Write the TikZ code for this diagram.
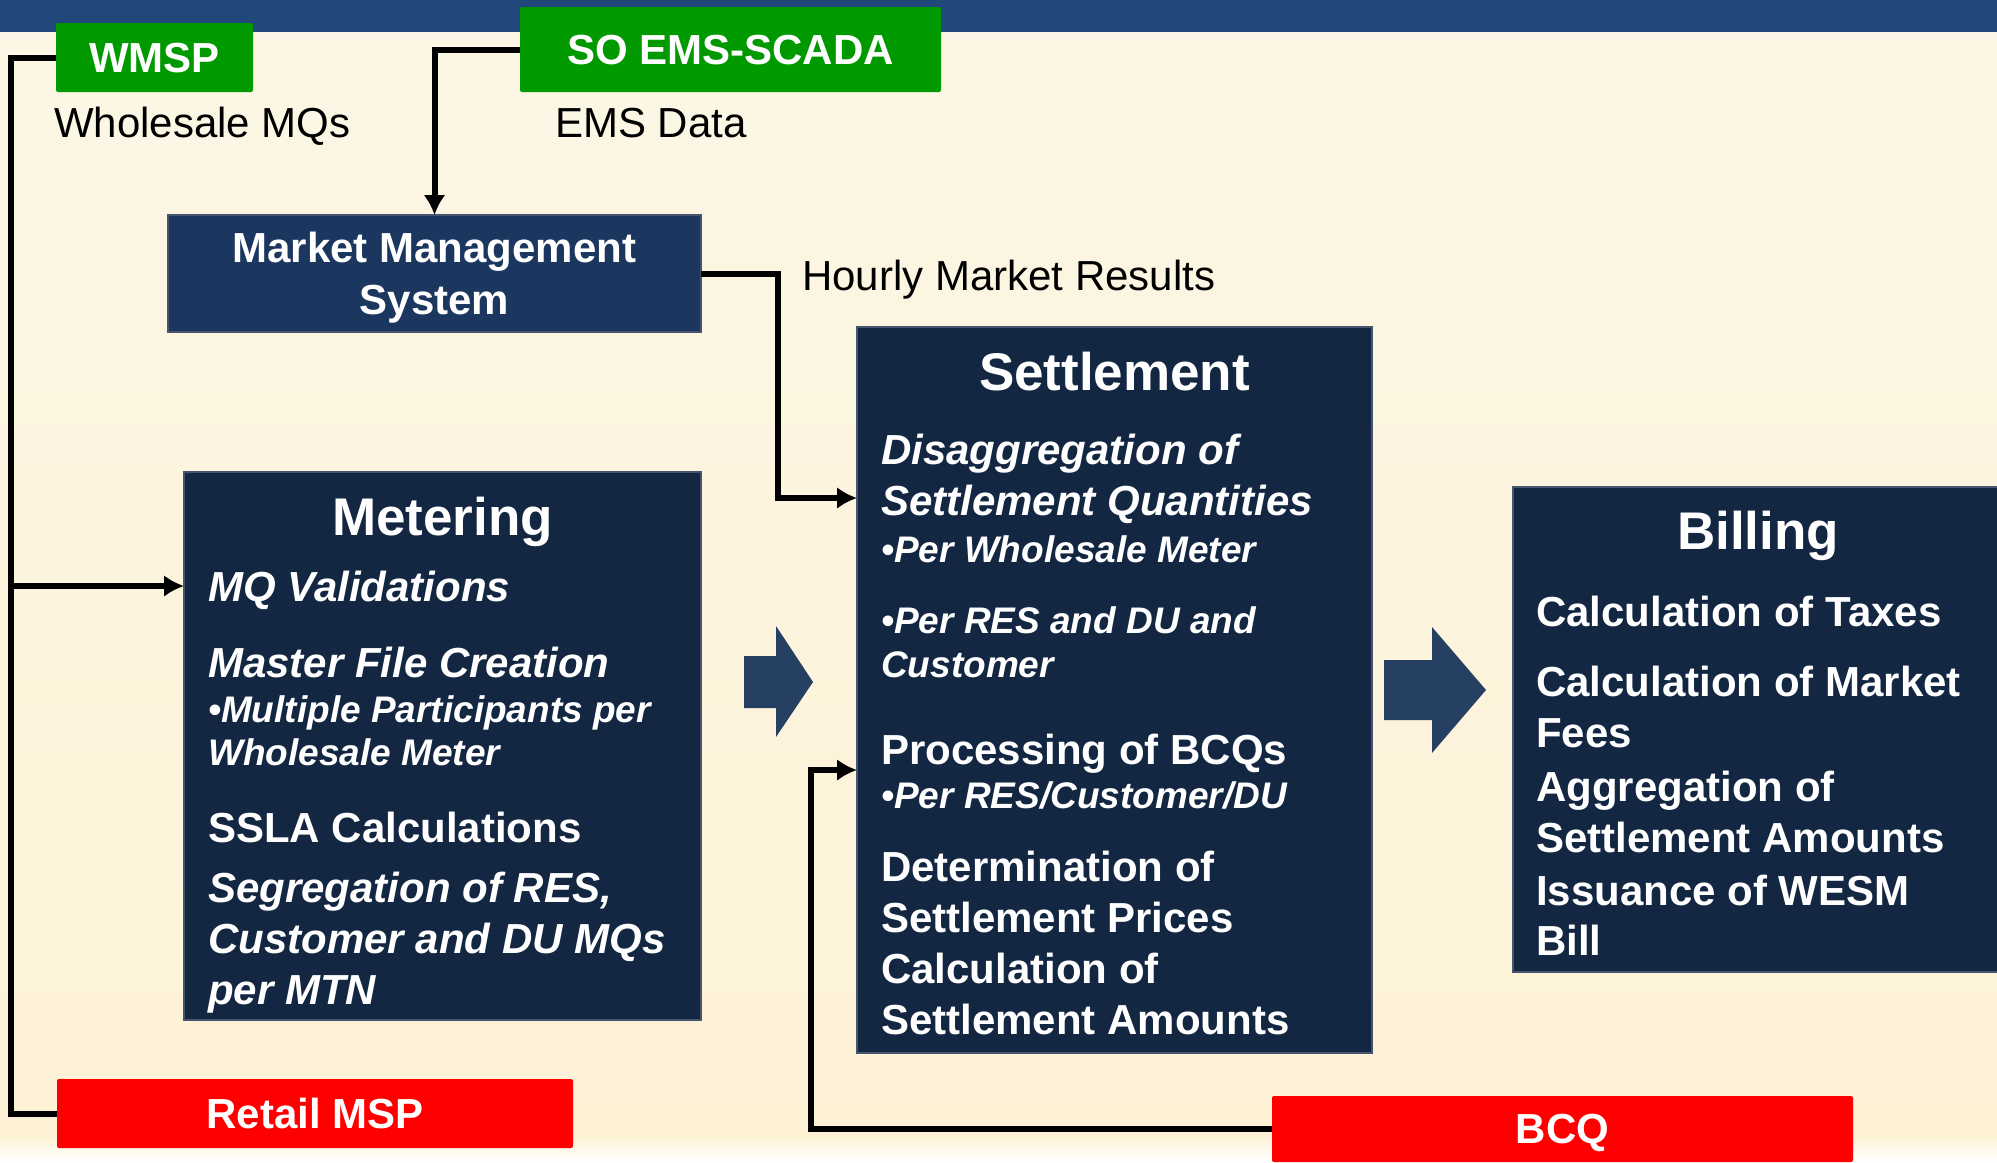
\documentclass[tikz,border=0pt]{standalone}
\usepackage{fontspec}
\setmainfont{Liberation Sans}
\usetikzlibrary{arrows.meta}
\tikzset{>={Latex[width=22pt,length=20pt]}}
\definecolor{barblue}{RGB}{33,71,123}
\definecolor{boxnavy}{RGB}{19,38,66}
\definecolor{mmsblue}{RGB}{28,55,95}
\definecolor{edgegray}{RGB}{70,85,110}
\definecolor{wgreen}{RGB}{0,153,0}
\definecolor{creamtop}{RGB}{252,246,230}
\definecolor{creamlow}{RGB}{253,242,214}
\definecolor{fatblue}{RGB}{38,64,100}

\begin{document}
\begin{tikzpicture}[x=1pt, y=-1pt,
  box/.style={fill=boxnavy, draw=edgegray, line width=1.5pt, inner sep=0pt,
    outer sep=0pt, anchor=north west},
  tag/.style={rounded corners=2pt, inner sep=0pt, outer sep=0pt, text depth=0pt,
    anchor=north west, text=white, font=\fontsize{42}{50}\selectfont\bfseries},
  ttl/.style={text=white, font=\fontsize{53}{60}\selectfont\bfseries,
    anchor=base, inner sep=0pt},
  itm/.style={text=white, font=\fontsize{42}{50}\selectfont\bfseries,
    anchor=base west, inner sep=0pt},
  itmi/.style={itm, font=\fontsize{42}{50}\selectfont\bfseries\itshape},
  subi/.style={itm, font=\fontsize{37}{44}\selectfont\bfseries\itshape},
  lbl/.style={font=\fontsize{42}{50}\selectfont, anchor=base west, inner sep=0pt},
  conn/.style={line width=6pt}]

  \useasboundingbox (0,0) rectangle (1997,1162);
  \shade[top color=creamtop, bottom color=creamlow] (0,0) rectangle (1997,1137);
  \shade[top color=creamlow, bottom color=white] (0,1137) rectangle (1997,1162);
  \fill[barblue] (0,0) rectangle (1997,32);

  % sources
  \node[tag, fill=wgreen, minimum width=197pt, minimum height=69pt] (wmsp) at (56,23) {WMSP};
  \node[tag, fill=wgreen, minimum width=421pt, minimum height=85pt] (soems) at (520,7) {SO EMS-SCADA};
  \node[tag, fill=red, minimum width=516pt, minimum height=69pt] (retail) at (57,1079) {Retail MSP};
  \node[tag, fill=red, minimum width=581pt, minimum height=66pt] (bcq) at (1272,1096) {BCQ};

  \node[lbl] (wmq) at (54,137) {Wholesale MQs};
  \node[lbl] (emsd) at (555,137) {EMS Data};
  \node[lbl] (hmr) at (802,290) {Hourly Market Results};

  \node[box, fill=mmsblue, minimum width=533pt, minimum height=117pt, align=center,
    text depth=0pt, text=white, font=\fontsize{42}{52}\selectfont\bfseries] (mms)
    at (168,215) {Market Management\\System};

  % main blocks
  \node[box, minimum width=517pt, minimum height=548pt] (met) at (184,472) {};
  \node[box, minimum width=515pt, minimum height=726pt] (set) at (857,327) {};
  \node[box, minimum width=490pt, minimum height=485pt] (bil) at (1513,487) {};

  \node[ttl] (metttl) at ([yshift=-63pt]met.north) {Metering};
  \node[itmi] (met1) at (208,601) {MQ Validations};
  \node[itmi] (met2) at (208,677) {Master File Creation};
  \node[subi] (met3) at (208,722) {•Multiple Participants per};
  \node[subi] (met4) at (208,765) {Wholesale Meter};
  \node[itm]  (met5) at (208,842) {SSLA Calculations};
  \node[itmi] (met6) at (208,902) {Segregation of RES,};
  \node[itmi] (met7) at (208,953) {Customer and DU MQs};
  \node[itmi] (met8) at (208,1004) {per MTN};

  \node[ttl] (setttl) at ([yshift=-63pt]set.north) {Settlement};
  \node[itmi] (set1) at (881,464) {Disaggregation of};
  \node[itmi] (set2) at (881,515) {Settlement Quantities};
  \node[subi] (set3) at (881,562) {•Per Wholesale Meter};
  \node[subi] (set4) at (881,633) {•Per RES and DU and};
  \node[subi] (set5) at (881,677) {Customer};
  \node[itm]  (set6) at (881,764) {Processing of BCQs};
  \node[subi] (set7) at (881,808) {•Per RES/Customer/DU};
  \node[itm]  (set8) at (881,881) {Determination of};
  \node[itm]  (set9) at (881,932) {Settlement Prices};
  \node[itm]  (set10) at (881,983) {Calculation of};
  \node[itm]  (set11) at (881,1034) {Settlement Amounts};

  \node[ttl] (bilttl) at ([yshift=-62pt]bil.north) {Billing};
  \node[itm] (bil1) at (1536,626) {Calculation of Taxes};
  \node[itm] (bil2) at (1536,696) {Calculation of Market};
  \node[itm] (bil3) at (1536,747) {Fees};
  \node[itm] (bil4) at (1536,801) {Aggregation of};
  \node[itm] (bil5) at (1536,852) {Settlement Amounts};
  \node[itm] (bil6) at (1536,905) {Issuance of WESM};
  \node[itm] (bil7) at (1536,955) {Bill};

  % block arrows
  \fill[fatblue] (744,656) -- (776,656) -- (776,626) -- (813,682) -- (776,737)
    -- (776,708) -- (744,708) -- cycle;
  \fill[fatblue] (1384,660) -- (1432,660) -- (1432,627) -- (1486,690) -- (1432,753)
    -- (1432,720) -- (1384,720) -- cycle;

  % connectors
  \coordinate (rail) at (11,586);
  \coordinate (hourly) at (778,498);
  \coordinate (bcqup) at (811,770);

  \draw[conn] (wmsp.west) -| (rail) |- (retail.west);
  \draw[conn,->] (rail) -- (rail -| met.west);
  \draw[conn,->] (soems.west) -| (mms.north);
  \draw[conn,->] (mms.east) -| (hourly) -- (hourly -| set.west);
  \draw[conn,->] (bcq.west) -| (bcqup) -- (bcqup -| set.west);

\end{tikzpicture}
\end{document}
